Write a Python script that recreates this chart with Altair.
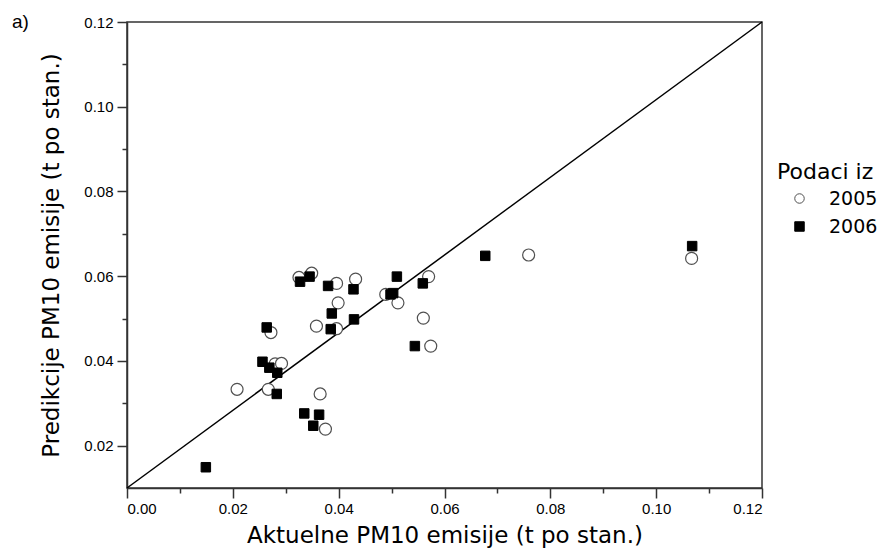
import altair as alt
import pandas as pd

# ---- data ----
x_2005 = [0.0208, 0.0267, 0.0272, 0.0280, 0.0292, 0.0325, 0.0349, 0.0358, 0.0365, 0.0375,
          0.0396, 0.0399, 0.0396, 0.0432, 0.0489, 0.0512, 0.0570, 0.0560, 0.0574, 0.0759, 0.1067]
y_2005 = [0.0333, 0.0333, 0.0467, 0.0393, 0.0394, 0.0597, 0.0607, 0.0482, 0.0322, 0.0239,
          0.0583, 0.0537, 0.0476, 0.0593, 0.0557, 0.0537, 0.0599, 0.0501, 0.0435, 0.0650, 0.0642]

x_2006 = [0.0149, 0.0256, 0.0264, 0.0269, 0.0284, 0.0283, 0.0327, 0.0335, 0.0345, 0.0352,
          0.0363, 0.0380, 0.0385, 0.0387, 0.0428, 0.0429, 0.0498, 0.0503, 0.0510, 0.0544,
          0.0559, 0.0677, 0.1068]
y_2006 = [0.0149, 0.0398, 0.0479, 0.0384, 0.0372, 0.0322, 0.0587, 0.0276, 0.0599, 0.0247,
          0.0273, 0.0577, 0.0475, 0.0512, 0.0569, 0.0498, 0.0557, 0.0560, 0.0599, 0.0435,
          0.0583, 0.0648, 0.0671]

series_names = ["2005", "2006"]
ref_x = [0.0, 0.12]
ref_y = [0.01, 0.12]
x_ticks = [0.00, 0.01, 0.02, 0.03, 0.04, 0.05, 0.06, 0.07, 0.08, 0.09, 0.10, 0.11, 0.12]
y_ticks = [0.02, 0.03, 0.04, 0.05, 0.06, 0.07, 0.08, 0.09, 0.10, 0.11, 0.12]
x_domain = [0.0, 0.12]
y_domain = [0.01, 0.12]
x_title = "Aktuelne PM10 emisije (t po stan.)"
y_title = "Predikcije PM10 emisije (t po stan.)"
legend_title = "Podaci iz"
panel_label = "a)"

df = pd.concat([
    pd.DataFrame({"x": x_2005, "y": y_2005, "year": series_names[0]}),
    pd.DataFrame({"x": x_2006, "y": y_2006, "year": series_names[1]}),
], ignore_index=True)
ref_df = pd.DataFrame({"x": ref_x, "y": ref_y})
lab_df = pd.DataFrame({"t": [panel_label]})

even_test = "round(datum.value*100) % 2 == 0"
label_expr = f"{even_test} ? format(datum.value, '.2f') : ''"

x_axis = alt.Axis(
    values=x_ticks, labelExpr=label_expr, title=x_title, grid=False,
    tickSize={"condition": {"test": even_test, "value": 10}, "value": 5},
    labelFont="Liberation Sans", labelFontSize=15, labelColor="black", labelPadding=3,
    titleFont="DejaVu Sans", titleFontSize=23, titleFontWeight="normal", titleColor="black",
    titlePadding=8, domainColor="#333", domainWidth=1.5, tickColor="#333", tickWidth=1.5,
)
y_axis = alt.Axis(
    values=y_ticks, labelExpr=label_expr, title=y_title, grid=False,
    tickSize={"condition": {"test": even_test, "value": 10}, "value": 5},
    labelFont="Liberation Sans", labelFontSize=15, labelColor="black", labelPadding=4,
    titleFont="DejaVu Sans", titleFontSize=23, titleFontWeight="normal", titleColor="black",
    titlePadding=20, domainColor="#333", domainWidth=1.5, tickColor="#333", tickWidth=1.5,
)

leg = alt.Legend(
    title=legend_title, orient="none", legendX=650, legendY=140,
    titleFont="DejaVu Sans", titleFontSize=22, titleFontWeight="normal", titleColor="black",
    titlePadding=5,
    labelFont="DejaVu Sans", labelFontSize=19, labelColor="black",
    symbolSize=90, symbolStrokeWidth=1, symbolOffset=13, labelOffset=20, rowPadding=8,
)

xs = alt.Scale(domain=x_domain, nice=False, zero=False)
ys = alt.Scale(domain=y_domain, nice=False, zero=False)

enc = dict(
    x=alt.X("x:Q", scale=xs, axis=x_axis),
    y=alt.Y("y:Q", scale=ys, axis=y_axis),
    shape=alt.Shape("year:N", scale=alt.Scale(domain=series_names, range=["circle", "square"]),
                    legend=leg),
    fill=alt.Fill("year:N", scale=alt.Scale(domain=series_names, range=["white", "black"]),
                  legend=leg),
    stroke=alt.Stroke("year:N", scale=alt.Scale(domain=series_names, range=["#505050", "black"]),
                      legend=leg),
)

base = alt.Chart(df)
circles = base.transform_filter(alt.datum.year == series_names[0]).mark_point(
    filled=False, strokeWidth=1.2, opacity=1, size=144).encode(**enc)
squares = base.transform_filter(alt.datum.year == series_names[1]).mark_point(
    filled=False, strokeWidth=1, opacity=1, size=90).encode(**enc)

line = alt.Chart(ref_df).mark_line(color="black", strokeWidth=1.5).encode(
    x=alt.X("x:Q", scale=xs),
    y=alt.Y("y:Q", scale=ys),
)

label = alt.Chart(lab_df).mark_text(
    align="left", baseline="middle", font="Liberation Sans", fontSize=19, color="black"
).encode(x=alt.value(-115), y=alt.value(0), text="t:N")

chart = alt.layer(line, circles, squares, label).properties(
    width=635, height=466,
    autosize=alt.AutoSizeParams(type="none"),
    padding={"left": 119, "top": 14, "right": 116, "bottom": 72},
).configure_view(
    stroke="#333", strokeWidth=1.5
)

chart.save("out.html", embed_options={"renderer": "svg", "actions": False})
